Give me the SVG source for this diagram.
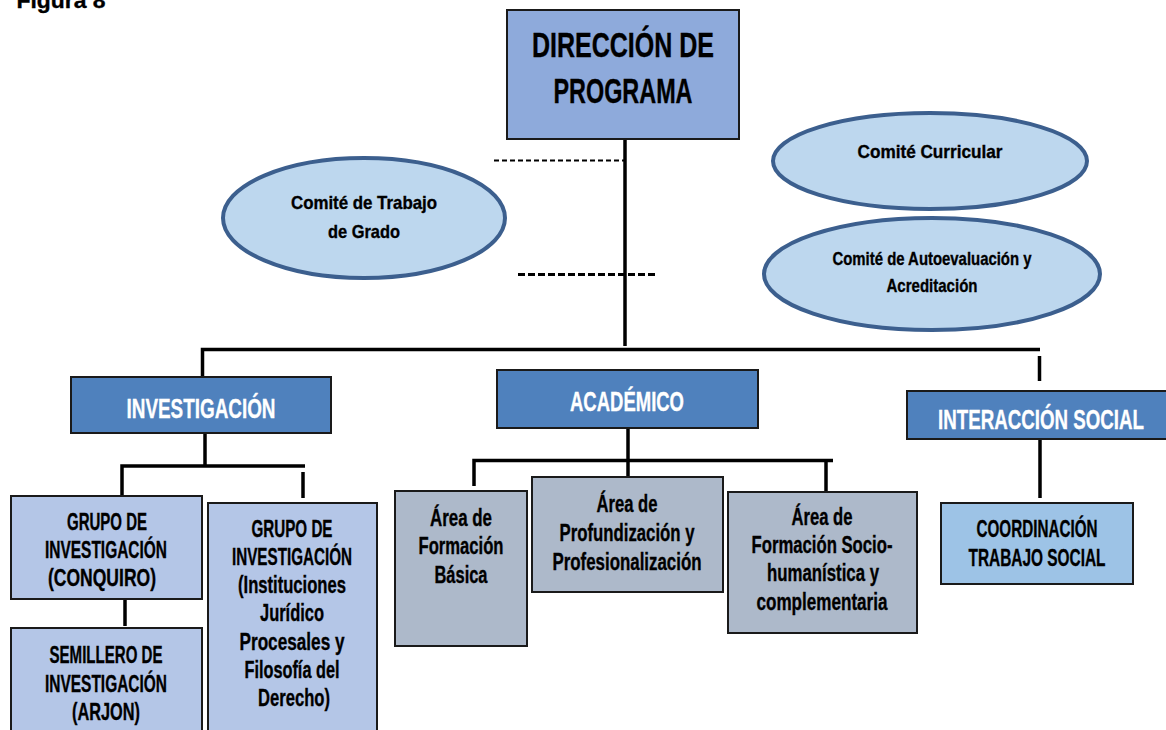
<svg xmlns="http://www.w3.org/2000/svg" width="1166" height="730" viewBox="0 0 1166 730">
<style>
text{font-family:"Liberation Sans","DejaVu Sans",sans-serif;font-weight:bold;text-anchor:middle;fill:#000;stroke:#000;stroke-width:0.35}
.w{fill:#fff;stroke:#fff}
.box{stroke:#1a1a1a;stroke-width:2}
.ell{fill:#bdd7ee;stroke:#3c5f8e;stroke-width:4}
.ln{stroke:#000;stroke-width:3.5;fill:none}
.t23{font-size:23px}
.t20{font-size:19px}
</style>
<rect width="1166" height="730" fill="#fff"/>
<text x="61" y="8" font-size="22" textLength="89" lengthAdjust="spacingAndGlyphs">Figura 8</text>

<g id="connectors">
<line class="ln" x1="625" y1="131" x2="625" y2="346"/>
<line x1="494" y1="160.5" x2="625" y2="160.5" stroke="#000" stroke-width="2" stroke-dasharray="5,3"/>
<line x1="518" y1="274.5" x2="655" y2="274.5" stroke="#000" stroke-width="3" stroke-dasharray="7,3"/>
<polyline class="ln" points="202.5,376 202.5,349.5 1040,349.5"/>
<line class="ln" x1="1039.5" y1="356" x2="1039.5" y2="381"/>
<line class="ln" x1="205" y1="433" x2="205" y2="466"/>
<polyline class="ln" points="122,496 122,466 305,466"/>
<line class="ln" x1="303" y1="472" x2="303" y2="498"/>
<line class="ln" x1="125" y1="600" x2="125" y2="626"/>
<line class="ln" x1="628" y1="428" x2="628" y2="493"/>
<polyline class="ln" points="474,486 474,460.5 833,460.5"/>
<line class="ln" x1="826" y1="460" x2="826" y2="494"/>
<line class="ln" x1="1040" y1="439" x2="1040" y2="498"/>
</g>

<g id="direccion">
<rect class="box" x="507" y="10" width="232" height="129" fill="#8eaadb"/>
<text x="623" y="57" font-size="35" textLength="182" lengthAdjust="spacingAndGlyphs">DIRECCIÓN DE</text>
<text x="623" y="103" font-size="35" textLength="139" lengthAdjust="spacingAndGlyphs">PROGRAMA</text>
</g>

<g id="comite-trabajo">
<ellipse class="ell" cx="364" cy="218" rx="141" ry="60"/>
<text class="t20" x="364" y="209" textLength="146" lengthAdjust="spacingAndGlyphs">Comité de Trabajo</text>
<text class="t20" x="364" y="238" textLength="72" lengthAdjust="spacingAndGlyphs">de Grado</text>
</g>

<g id="comite-curricular">
<ellipse class="ell" cx="930" cy="161" rx="157" ry="48"/>
<text class="t20" x="930" y="158" textLength="145" lengthAdjust="spacingAndGlyphs">Comité Curricular</text>
</g>

<g id="comite-autoevaluacion">
<ellipse class="ell" cx="932" cy="274" rx="168" ry="56"/>
<text class="t20" x="932" y="265" textLength="199" lengthAdjust="spacingAndGlyphs">Comité de Autoevaluación y</text>
<text class="t20" x="932" y="292" textLength="91" lengthAdjust="spacingAndGlyphs">Acreditación</text>
</g>

<g id="investigacion">
<rect class="box" x="71" y="377" width="260" height="56" fill="#4f81bd"/>
<text class="w" x="201" y="418" font-size="28" textLength="149" lengthAdjust="spacingAndGlyphs">INVESTIGACIÓN</text>
</g>

<g id="academico">
<rect class="box" x="497" y="370" width="261" height="58" fill="#4f81bd"/>
<text class="w" x="627" y="411" font-size="28" textLength="114" lengthAdjust="spacingAndGlyphs">ACADÉMICO</text>
</g>

<g id="interaccion">
<rect class="box" x="907" y="391" width="262" height="48" fill="#4f81bd"/>
<text class="w" x="1041" y="429" font-size="28" textLength="206" lengthAdjust="spacingAndGlyphs">INTERACCIÓN SOCIAL</text>
</g>

<g id="grupo-conquiro">
<rect class="box" x="11" y="496" width="191" height="103" fill="#b4c6e7"/>
<text class="t23" x="107" y="530" textLength="80" lengthAdjust="spacingAndGlyphs">GRUPO DE</text>
<text class="t23" x="106" y="558" textLength="122" lengthAdjust="spacingAndGlyphs">INVESTIGACIÓN</text>
<text class="t23" x="102" y="586" textLength="108" lengthAdjust="spacingAndGlyphs">(CONQUIRO)</text>
</g>

<g id="semillero">
<rect class="box" x="11" y="628" width="191" height="110" fill="#b4c6e7"/>
<text class="t23" x="106" y="663" textLength="113" lengthAdjust="spacingAndGlyphs">SEMILLERO DE</text>
<text class="t23" x="106" y="692" textLength="122" lengthAdjust="spacingAndGlyphs">INVESTIGACIÓN</text>
<text class="t23" x="106" y="720" textLength="68" lengthAdjust="spacingAndGlyphs">(ARJON)</text>
</g>

<g id="grupo-instituciones">
<rect class="box" x="208" y="503" width="169" height="235" fill="#b4c6e7"/>
<text class="t23" x="292" y="537" textLength="81" lengthAdjust="spacingAndGlyphs">GRUPO DE</text>
<text class="t23" x="292" y="565" textLength="120" lengthAdjust="spacingAndGlyphs">INVESTIGACIÓN</text>
<text class="t23" x="292" y="593" textLength="108" lengthAdjust="spacingAndGlyphs">(Instituciones</text>
<text class="t23" x="292" y="621" textLength="64" lengthAdjust="spacingAndGlyphs">Jurídico</text>
<text class="t23" x="292" y="650" textLength="105" lengthAdjust="spacingAndGlyphs">Procesales y</text>
<text class="t23" x="292" y="678" textLength="95" lengthAdjust="spacingAndGlyphs">Filosofía del</text>
<text class="t23" x="294" y="706" textLength="72" lengthAdjust="spacingAndGlyphs">Derecho)</text>
</g>

<g id="area-basica">
<rect class="box" x="395" y="491" width="132" height="155" fill="#adb9ca"/>
<text class="t23" x="461" y="526" textLength="62" lengthAdjust="spacingAndGlyphs">Área de</text>
<text class="t23" x="461" y="554" textLength="85" lengthAdjust="spacingAndGlyphs">Formación</text>
<text class="t23" x="461" y="583" textLength="53" lengthAdjust="spacingAndGlyphs">Básica</text>
</g>

<g id="area-profundizacion">
<rect class="box" x="532" y="477" width="191" height="115" fill="#adb9ca"/>
<text class="t23" x="627" y="512" textLength="61" lengthAdjust="spacingAndGlyphs">Área de</text>
<text class="t23" x="627" y="541" textLength="135" lengthAdjust="spacingAndGlyphs">Profundización y</text>
<text class="t23" x="627" y="570" textLength="149" lengthAdjust="spacingAndGlyphs">Profesionalización</text>
</g>

<g id="area-sociohumanistica">
<rect class="box" x="728" y="492" width="189" height="141" fill="#adb9ca"/>
<text class="t23" x="822" y="525" textLength="61" lengthAdjust="spacingAndGlyphs">Área de</text>
<text class="t23" x="822" y="553" textLength="141" lengthAdjust="spacingAndGlyphs">Formación Socio-</text>
<text class="t23" x="823" y="581" textLength="112" lengthAdjust="spacingAndGlyphs">humanística y</text>
<text class="t23" x="822" y="610" textLength="131" lengthAdjust="spacingAndGlyphs">complementaria</text>
</g>

<g id="coordinacion">
<rect class="box" x="941" y="503" width="192" height="81" fill="#9dc3e6"/>
<text class="t23" x="1037" y="537" textLength="121" lengthAdjust="spacingAndGlyphs">COORDINACIÓN</text>
<text class="t23" x="1037" y="566" textLength="137" lengthAdjust="spacingAndGlyphs">TRABAJO SOCIAL</text>
</g>
</svg>
